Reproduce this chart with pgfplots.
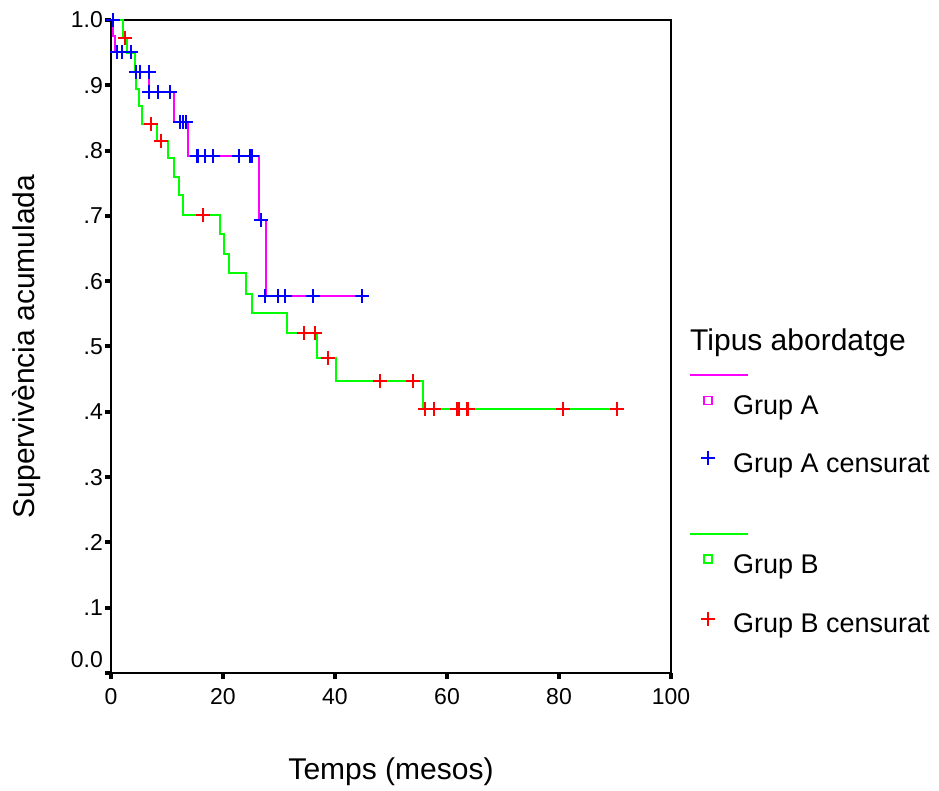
\documentclass[border=0pt]{standalone}
\usepackage{fontspec}
\setmainfont{Liberation Sans}
\usepackage{pgfplots}
\pgfplotsset{compat=1.18}
\definecolor{grupAline}{RGB}{255,0,255}
\definecolor{grupAcens}{RGB}{0,0,255}
\definecolor{grupBline}{RGB}{0,255,0}
\definecolor{grupBcens}{RGB}{255,0,0}

\begin{document}
\begin{tikzpicture}
\useasboundingbox (-111pt,-118pt) rectangle (828pt,673pt);
\begin{axis}[
    at={(0,0)}, anchor=south west,
    scale only axis,
    width=560pt, height=653pt,
    xmin=0, xmax=100, ymin=0, ymax=1,
    xtick={0,20,40,60,80,100},
    xticklabels={0,20,40,60,80,100},
    ytick={0,0.1,0.2,0.3,0.4,0.5,0.6,0.7,0.8,0.9,1},
    yticklabels={\raisebox{13pt}[\height][\depth]{0.0},.1,.2,.3,.4,.5,.6,.7,.8,.9,1.0},
    tick pos=left,
    tick align=outside,
    major tick length=6pt,
    tick style={line width=4pt, black},
    axis line style={line width=2pt},
    clip=false,
    tick label style={font=\fontsize{23}{26}\selectfont, inner sep=0pt},
    yticklabel style={xshift=-2pt},
    xticklabel style={yshift=-9pt},
    xlabel={Temps (mesos)},
    ylabel={Supervivència acumulada},
    label style={font=\fontsize{30}{36}\selectfont},
    xlabel style={at={(axis description cs:0.5,-0.1516)}, anchor=center},
    ylabel style={at={(axis description cs:-0.15,0.5)}, anchor=center},
    legend cell align=left,
    legend style={
        at={(axis description cs:1.0518,0.4655)}, anchor=north west,
        draw=none, fill=none, inner sep=0pt, outer sep=0pt,
        row sep=0pt, column sep=17pt,
        font=\fontsize{27}{32}\selectfont,
        nodes={inner sep=0pt, text height=0pt, text depth=0pt, anchor=base west},
    },
]

% Grup A: survival curve
\addplot[grupAline, line width=2pt, const plot, forget plot] coordinates {
    (0,1) (0.4,0.976) (0.8,0.951) (4.3,0.921) (6.8,0.889) (11.25,0.844)
    (13.7,0.791) (26.4,0.693) (27.6,0.577) (44.9,0.577)
};
% Grup A: censored
\addplot[grupAcens, only marks, mark=+, mark size=7pt, mark options={line width=2pt}, forget plot] coordinates {
    (0.3,1.0)
    (1.0,0.951) (2.0,0.951) (3.5,0.951)
    (4.5,0.921) (5.1,0.921) (6.8,0.921)
    (6.8,0.889) (8.45,0.889) (10.5,0.889)
    (12.3,0.844) (12.9,0.844) (13.4,0.844)
    (15.3,0.791) (15.6,0.791) (16.8,0.791) (18.3,0.791) (22.9,0.791) (24.9,0.791) (25.2,0.791)
    (26.8,0.693)
    (27.5,0.577) (29.9,0.577) (31.1,0.577) (36.1,0.577) (44.9,0.577)
};
% Grup B: survival curve
\addplot[grupBline, line width=2pt, const plot, forget plot] coordinates {
    (0,1) (2.1,0.973) (2.8,0.949) (4.3,0.921) (4.5,0.894) (5.05,0.868)
    (5.5,0.840) (8.25,0.815) (10.1,0.788) (11.25,0.760) (12.1,0.732)
    (12.8,0.701) (19.5,0.672) (20.2,0.641) (21.1,0.612) (24.1,0.580)
    (25.1,0.551) (31.4,0.520) (36.7,0.483) (40.2,0.447) (55.7,0.404)
    (90.4,0.404)
};
% Grup B: censored
\addplot[grupBcens, only marks, mark=+, mark size=7pt, mark options={line width=2pt}, forget plot] coordinates {
    (2.5,0.973) (7.1,0.840) (8.9,0.815) (16.4,0.701)
    (34.5,0.520) (36.4,0.520) (38.8,0.483)
    (48.0,0.447) (53.9,0.447)
    (56.1,0.404) (57.6,0.404) (61.7,0.404) (62.1,0.404) (63.5,0.404) (63.8,0.404)
    (80.8,0.404) (90.4,0.404)
};

\node[anchor=base west, font=\fontsize{30}{36}\selectfont, inner sep=0pt]
    at (axis description cs:1.0339,0.4946) {Tipus abordatge};

\addlegendimage{legend image code/.code={
    \draw[grupAline, line width=2pt, overlay] (-18pt,14pt) -- (40pt,14pt);
    \path[draw=none, fill=none] (-8pt,0pt) rectangle (8pt,20pt);}}
\addlegendentry{}
\addlegendimage{legend image code/.code={
    \draw[grupAline, line width=1.6pt] (-4pt,10pt) rectangle (4pt,18pt);
    \path[draw=none, fill=none] (-8pt,0pt) rectangle (8pt,25pt);}}
\addlegendentry{Grup A}
\addlegendimage{legend image code/.code={
    \draw[grupAcens, line width=2pt] (-7pt,14pt) -- (7pt,14pt) (0pt,7pt) -- (0pt,21pt);
    \path[draw=none, fill=none] (-8pt,0pt) rectangle (8pt,57pt);}}
\addlegendentry{Grup A censurat}
\addlegendimage{legend image code/.code={
    \draw[grupBline, line width=2pt, overlay] (-18pt,14pt) -- (40pt,14pt);
    \path[draw=none, fill=none] (-8pt,0pt) rectangle (8pt,75pt);}}
\addlegendentry{}
\addlegendimage{legend image code/.code={
    \draw[grupBline, line width=1.6pt] (-4pt,10pt) rectangle (4pt,18pt);
    \path[draw=none, fill=none] (-8pt,0pt) rectangle (8pt,25pt);}}
\addlegendentry{Grup B}
\addlegendimage{legend image code/.code={
    \draw[grupBcens, line width=2pt] (-7pt,14pt) -- (7pt,14pt) (0pt,7pt) -- (0pt,21pt);
    \path[draw=none, fill=none] (-8pt,0pt) rectangle (8pt,59pt);}}
\addlegendentry{Grup B censurat}
\end{axis}
\end{tikzpicture}
\end{document}
